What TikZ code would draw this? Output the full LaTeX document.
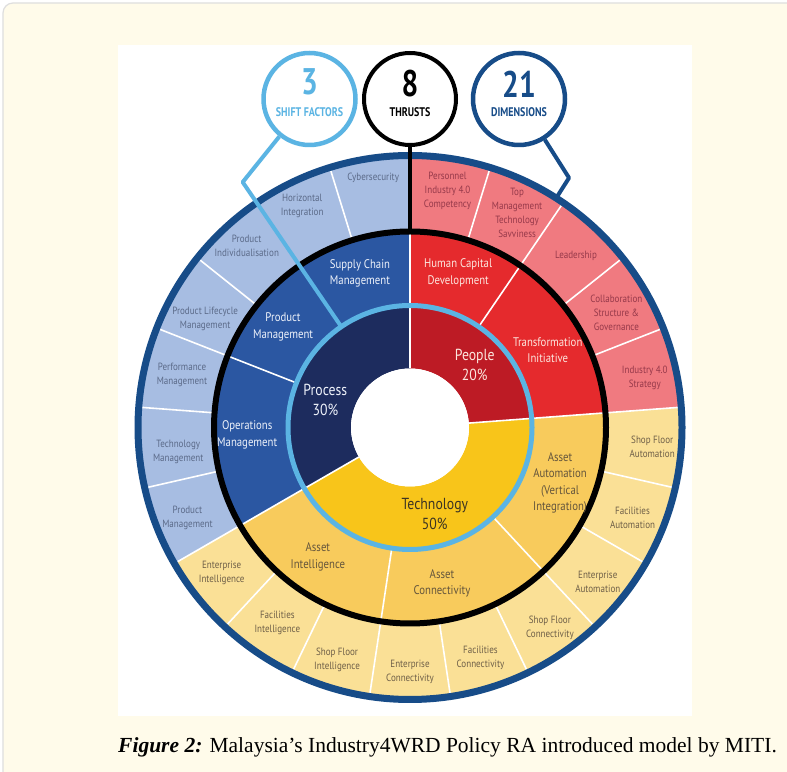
\documentclass[tikz,border=0pt]{standalone}
\usepackage{fontspec}
\setmainfont{PT Sans}[FakeStretch=0.86]
\newfontfamily\topfont{PT Sans}[FakeStretch=0.8]
\newfontfamily\capfont{Liberation Serif}
\definecolor{cardbg}{HTML}{FFFBEA}
\definecolor{cardline}{HTML}{DEDEDE}
\definecolor{ringdark}{HTML}{174C88}
\definecolor{ringlight}{HTML}{5BB4E3}
\definecolor{procO}{HTML}{A7BDE2}
\definecolor{procM}{HTML}{2B57A2}
\definecolor{procI}{HTML}{1D2C5E}
\definecolor{peopO}{HTML}{F07A80}
\definecolor{peopM}{HTML}{E52A2D}
\definecolor{peopI}{HTML}{BD1B25}
\definecolor{techO}{HTML}{FAE096}
\definecolor{techM}{HTML}{F8CB5C}
\definecolor{techI}{HTML}{F8C51A}
\definecolor{txtProcO}{HTML}{5B6A88}
\definecolor{txtPeopO}{HTML}{96394A}
\definecolor{txtTechO}{HTML}{6E5F48}
\definecolor{txtTechM}{HTML}{64553C}
\definecolor{txtTechI}{HTML}{3C3423}
\definecolor{txtProcM}{HTML}{EEF2FA}
\definecolor{txtPeopM}{HTML}{FCE6DE}
\newcommand{\annsector}[5]{\fill[#5] (#1:#4) arc[start angle=#1,end angle=#2,radius=#4] -- (#2:#3) arc[start angle=#2,end angle=#1,radius=#3] -- cycle;}
\tikzset{
  lblO/.style={align=center, font=\fontsize{10.5}{14}\selectfont, inner sep=0pt},
  lblM/.style={align=center, font=\fontsize{12.5}{16.5}\selectfont, inner sep=0pt},
  lblI/.style={align=center, font=\fontsize{16}{19.5}\selectfont, inner sep=0pt},
  divider/.style={draw=white, line width=1.6},
  topcircle/.style={circle, minimum size=92, inner sep=0pt, line width=4.5, fill=white},
  bignum/.style={inner sep=0pt, font=\topfont\bfseries\fontsize{37}{37}\selectfont},
  smallcap/.style={inner sep=0pt, font=\topfont\bfseries\fontsize{12.5}{12.5}\selectfont},
}
\begin{document}
\begin{tikzpicture}[x=1pt,y=1pt]
\useasboundingbox (0,0) rectangle (787,771);
% card
\fill[white] (0,0) rectangle (787,771);
\draw[cardline, fill=cardbg, line width=1.2, rounded corners=10] (3,-20) rectangle (810,768);
\fill[white] (118,55) rectangle (692,726);

\begin{scope}[shift={(410,343.5)}]
  % outer ring
  \annsector{90}{4.2857}{196}{270}{peopO}
  \annsector{4.2857}{-150}{196}{270}{techO}
  \annsector{-150}{-270}{196}{270}{procO}
  % middle ring
  \annsector{90}{4.2857}{122}{196}{peopM}
  \annsector{4.2857}{-150}{122}{196}{techM}
  \annsector{-150}{-270}{122}{196}{procM}
  % inner ring
  \annsector{90}{4.2857}{59}{122}{peopI}
  \annsector{4.2857}{-150}{59}{122}{techI}
  \annsector{-150}{-270}{59}{122}{procI}
  \fill[white] (0,0) circle[radius=59];
  % outer dividers
  \foreach \k in {1,...,18,20} {
    \draw[divider] ({90-\k*360/21}:196) -- ({90-\k*360/21}:270);
  }
  % middle dividers
  \foreach \a in {90,55.714,4.2857,-47.143,-98.571,-150,158.571} {
    \draw[divider] (\a:122) -- (\a:196);
  }
  % inner dividers
  \foreach \a in {90,4.2857,-150} {
    \draw[divider] (\a:59) -- (\a:122);
  }
  % rings
  \draw[ringlight, line width=5] (0,0) circle[radius=122];
  \draw[black, line width=6] (0,0) circle[radius=196];
  \draw[ringdark, line width=7] (0,0) circle[radius=272];
  % callout coordinates
  \coordinate (t3) at (124.29:297);
  \coordinate (e3) at (124.29:122);
  \coordinate (e8) at (90:196);
  \coordinate (t21) at (57.5:296);
  \coordinate (e21) at (57.5:272);
\end{scope}

% top circles
\node[topcircle, draw=ringlight] (c3) at (309.5,672) {};
\node[topcircle, draw=black, line width=4] (c8) at (410,672) {};
\node[topcircle, draw=ringdark] (c21) at (519,672) {};
\draw[ringlight, line width=4, line join=round] (c3) -- (t3) -- (e3);
\draw[black, line width=3.5] (c8) -- (e8);
\draw[ringdark, line width=4, line join=round] (c21) -- (t21) -- (e21);
\node[bignum, text=ringlight] (n3) at (309.5,689) {3};
\node[smallcap, text=ringlight] (s3) at (309.5,659) {SHIFT FACTORS};
\node[bignum, text=black] (n8) at (410,687) {8};
\node[smallcap, text=black] (s8) at (410,659) {THRUSTS};
\node[bignum, text=ringdark] (n21) at (519,687) {21};
\node[smallcap, text=ringdark] (s21) at (519,659) {DIMENSIONS};

\begin{scope}[shift={(410,343.5)}]
  % outer labels: process
  \node[lblO, text=txtProcO] (o1) at (98.4:252) {Cybersecurity};
  \node[lblO, text=txtProcO] (o2) at (116:246) {Horizontal\\Integration};
  \node[lblO, text=txtProcO] (o3) at (132:244) {Product\\Individualisation};
  \node[lblO, text=txtProcO] (o4) at (152:232) {Product Lifecycle\\Management};
  \node[lblO, text=txtProcO] (o5) at (167:234) {Performance\\Management};
  \node[lblO, text=txtProcO] (o6) at (186:233) {Technology\\Management};
  \node[lblO, text=txtProcO] (o7) at (202:240) {Product\\Management};
  % outer labels: people
  \node[lblO, text=txtPeopO] (o8) at (81:240) {Personnel\\Industry 4.0\\Competency};
  \node[lblO, text=txtPeopO] (o9) at (63.5:240) {Top\\Management\\Technology\\Savviness};
  \node[lblO, text=txtPeopO] (o10) at (46:239) {Leadership};
  \node[lblO, text=txtPeopO] (o11) at (29:236) {Collaboration\\Structure \&\\Governance};
  \node[lblO, text=txtPeopO] (o12) at (12:240) {Industry 4.0\\Strategy};
  % outer labels: technology
  \node[lblO, text=txtTechO] (o13) at (217.7:238) {Enterprise\\Intelligence};
  \node[lblO, text=txtTechO] (o14) at (235.8:236) {Facilities\\Intelligence};
  \node[lblO, text=txtTechO] (o15) at (252.6:244) {Shop Floor\\Intelligence};
  \node[lblO, text=txtTechO] (o16) at (270:244.5) {Enterprise\\Connectivity};
  \node[lblO, text=txtTechO] (o17) at (287:241) {Facilities\\Connectivity};
  \node[lblO, text=txtTechO] (o18) at (304.9:244.5) {Shop Floor\\Connectivity};
  \node[lblO, text=txtTechO] (o19) at (320.6:243) {Enterprise\\Automation};
  \node[lblO, text=txtTechO] (o20) at (338:240) {Facilities\\Automation};
  \node[lblO, text=txtTechO] (o21) at (355.4:243) {Shop Floor\\Automation};
  % middle labels
  \node[lblM, text=txtProcM] (m1) at (108:162) {Supply Chain\\Management};
  \node[lblM, text=txtProcM] (m2) at (141.6:162) {Product\\Management};
  \node[lblM, text=txtProcM] (m3) at (182.6:163) {Operations\\Management};
  \node[lblM, text=txtPeopM] (m4) at (72.7:162) {Human Capital\\Development};
  \node[lblM, text=txtPeopM] (m5) at (29.3:158) {Transformation\\Initiative};
  \node[lblM, text=txtTechM] (m6) at (234.6:159) {Asset\\Intelligence};
  \node[lblM, text=txtTechM] (m7) at (281.6:159) {Asset\\Connectivity};
  \node[lblM, text=txtTechM] (m8) at (339.7:160) {Asset\\Automation\\(Vertical\\Integration)};
  % inner labels
  \node[lblI, text=txtProcM] (i1) at (162:89) {Process\\30\%};
  \node[lblI, text=txtPeopM] (i2) at (44:90) {People\\20\%};
  \node[lblI, text=txtTechI] (i3) at (286:90) {Technology\\50\%};
\end{scope}

\node[anchor=base west, inner sep=0pt, font=\capfont\fontsize{21.5}{25}\selectfont] (cap) at (118,19) {\textbf{\textit{Figure 2:}} Malaysia’s Industry4WRD Policy RA introduced model by MITI.};
\end{tikzpicture}
\end{document}
